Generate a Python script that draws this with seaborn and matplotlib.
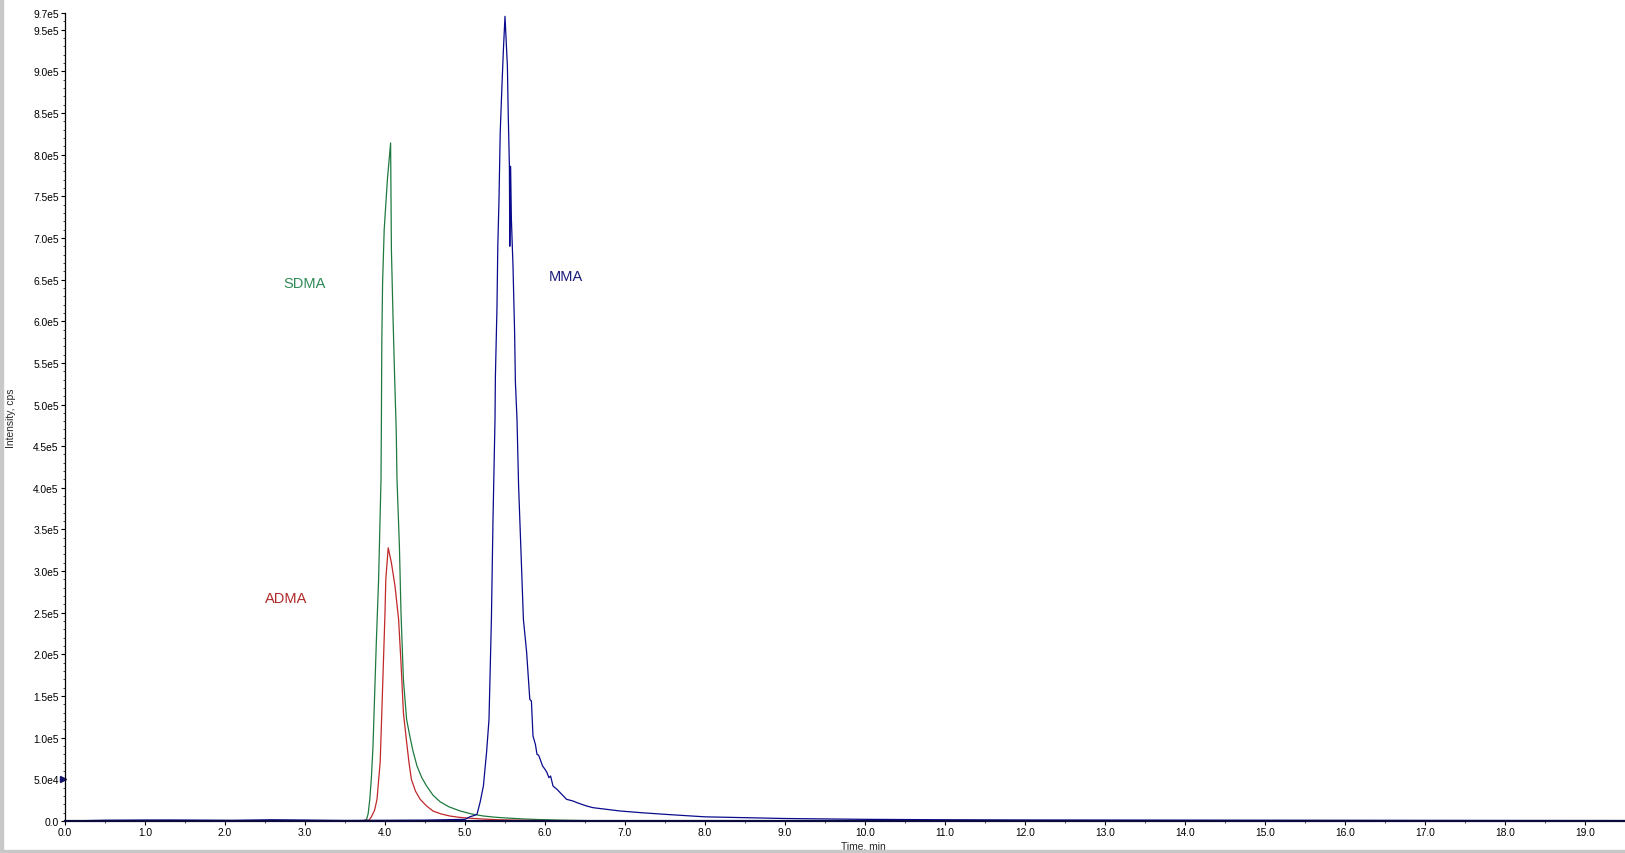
import numpy as np
import pandas as pd
import matplotlib
matplotlib.use("Agg")
import matplotlib.pyplot as plt
import matplotlib.ticker as mticker
import matplotlib.transforms as mtransforms
from matplotlib.patches import Rectangle
import seaborn as sns

# --- data (time in min, intensity in cps) ---
sdma_t = [0.0, 1.0, 2.0, 3.0, 3.5, 3.70, 3.74, 3.77, 3.79, 3.81, 3.83, 3.85, 3.87, 3.89, 3.92, 3.95, 3.955, 3.96, 3.97,
          3.99, 4.03, 4.07, 4.08, 4.10, 4.12, 4.14, 4.15, 4.18, 4.20, 4.23, 4.27, 4.31, 4.35,
          4.40, 4.46, 4.52, 4.60, 4.69, 4.80, 4.94, 5.08, 5.23, 5.38, 5.52, 5.7, 5.9, 6.2, 6.5, 7.0, 9.0, 12.0, 15.0, 19.5]
sdma_i = [0, 600, 0, 500, 0, 0, 500, 2000, 9000, 26000, 52000, 90000, 150000, 210000, 290000, 410000, 479000, 575000, 647000,
          710000, 770000, 814000, 686000, 606000, 534000, 470000, 410000, 330000, 250000, 170000, 122000, 102000, 84000,
          66000, 52000, 42000, 31000, 23000, 17000, 12000, 8500, 6000, 4500, 3600, 2600, 1800, 1000, 500, 0, 400, 0, 300, 0]

adma_t = [0.0, 1.5, 3.0, 3.6, 3.80, 3.83, 3.87, 3.90, 3.94, 3.96, 3.98, 4.00, 4.01, 4.04, 4.08, 4.125,
          4.17, 4.20, 4.23, 4.27, 4.30, 4.33, 4.38, 4.44, 4.52, 4.60, 4.70, 4.81, 4.92, 5.02, 5.2, 5.4, 5.7,
          6.0, 8.0, 12.0, 16.0, 19.5]
adma_i = [0, 400, 0, 0, 1000, 5000, 13000, 26000, 71000, 130000, 190000, 250000, 290000, 328000, 310000, 282000,
          242000, 190000, 130000, 95000, 70000, 50000, 36000, 26000, 18000, 12000, 8500, 6000, 4500, 3600, 2500, 1500, 900,
          500, 0, 300, 0, 0]

mma_t = [0.0, 0.5, 1.3, 2.1, 2.6, 3.5, 4.5, 5.0, 5.06, 5.11, 5.15, 5.19, 5.23, 5.27, 5.30, 5.33, 5.35,
         5.375, 5.38, 5.40, 5.41, 5.425, 5.44, 5.46, 5.48, 5.50, 5.53, 5.54, 5.555, 5.56,
         5.57, 5.58, 5.60, 5.62, 5.63, 5.65, 5.67, 5.70, 5.73, 5.77, 5.81, 5.83, 5.85,
         5.88, 5.90, 5.92, 5.94, 5.97, 6.00, 6.02, 6.05, 6.07, 6.10, 6.15, 6.20, 6.27, 6.35, 6.40,
         6.52, 6.60, 6.77, 6.94, 7.2, 7.5, 8.0, 9.0, 10.0, 11.0, 12.0, 14.0,
         16.0, 18.0, 19.5]
mma_i = [0, 900, 1200, 800, 1500, 600, 1000, 2000, 5000, 6500, 8000, 23000, 42000, 83000, 122000, 242000, 362000,
         482000, 534000, 618000, 690000, 746000, 826000, 878000, 926000, 966000, 906000, 850000, 786000, 690000,
         786000, 722000, 666000, 587000, 527000, 482000, 402000, 323000, 242000, 203000, 146000, 144000, 102000,
         92000, 80000, 79000, 74000, 66000, 62000, 59000, 52000, 54000, 42000, 38000, 33000, 26000, 24000, 22000,
         18000, 16000, 14000, 12000, 10000, 8000, 5000, 3000, 2000, 1500, 1200, 1000,
         800, 600, 500]

y_major = [0, 50000, 100000, 150000, 200000, 250000, 300000, 350000, 400000, 450000, 500000,
           550000, 600000, 650000, 700000, 750000, 800000, 850000, 900000, 950000, 970000]
x_major = list(range(0, 20))

sns.set_style("white")
plt.rcParams["font.family"] = ["Liberation Sans", "DejaVu Sans"]

fig = plt.figure(figsize=(16.25, 8.54), dpi=100)
ax = fig.add_axes([65 / 1625, 32 / 854, 1560 / 1625, 808 / 854])

sns.lineplot(x=sdma_t, y=sdma_i, ax=ax, color="#1f7a3f", linewidth=0.9, sort=False, estimator=None)
sns.lineplot(x=adma_t, y=adma_i, ax=ax, color="#c0282a", linewidth=0.9, sort=False, estimator=None)
sns.lineplot(x=mma_t, y=mma_i, ax=ax, color="#0a0a8c", linewidth=0.9, sort=False, estimator=None)

ax.text(2.99, 646000, "SDMA", color="#2e8a55", fontsize=10.5, ha="center", va="center")
ax.text(2.76, 268000, "ADMA", color="#b02a2a", fontsize=10.5, ha="center", va="center")
ax.text(6.26, 654000, "MMA", color="#1c1c7a", fontsize=10.5, ha="center", va="center")

ax.set_xlim(0, 19.5)
ax.set_ylim(0, 970000)

def sci(v, pos):
    if v == 0:
        return "0.0"
    e = int(np.floor(np.log10(v)))
    return f"{v / 10**e:.1f}e{e}"

ax.yaxis.set_major_locator(mticker.FixedLocator(y_major))
ax.yaxis.set_major_formatter(mticker.FuncFormatter(sci))
ax.yaxis.set_minor_locator(mticker.MultipleLocator(10000))
ax.xaxis.set_major_locator(mticker.FixedLocator(x_major))
ax.xaxis.set_major_formatter(mticker.FormatStrFormatter("%.1f"))
ax.xaxis.set_minor_locator(mticker.MultipleLocator(0.5))

ax.tick_params(axis="both", which="major", direction="out", length=3, width=0.8,
               labelsize=7.4, pad=1.5, colors="black")
ax.tick_params(axis="both", which="minor", direction="out", length=1.5, width=0.6)
ax.tick_params(axis="x", which="both", bottom=True)
ax.tick_params(axis="y", which="both", left=True)

for s in ["top", "right"]:
    ax.spines[s].set_visible(False)
ax.spines["left"].set_color("black")
ax.spines["left"].set_linewidth(0.9)
ax.spines["bottom"].set_color("#0a0a3c")
ax.spines["bottom"].set_linewidth(1.6)

ax.set_xlabel("Time, min", fontsize=7.4)
ax.set_ylabel("Intensity, cps", fontsize=7.4)
ax.xaxis.set_label_coords(0.5115, -0.0245)
ax.yaxis.set_label_coords(-0.0315, 0.5)

# small marker on the y axis at 5.0e4
trans = mtransforms.blended_transform_factory(ax.transAxes, ax.transData)
ax.plot([-0.001], [50000], marker=">", color="#14146e", markersize=5, transform=trans, clip_on=False)

# window frame edges
fig.patches.append(Rectangle((0, 0), 3 / 1625, 1, transform=fig.transFigure, color="#c8c8c8", zorder=0))
fig.patches.append(Rectangle((0, 0), 1, 3 / 854, transform=fig.transFigure, color="#c8c8c8", zorder=0))

fig.savefig("out.png", dpi=100)
